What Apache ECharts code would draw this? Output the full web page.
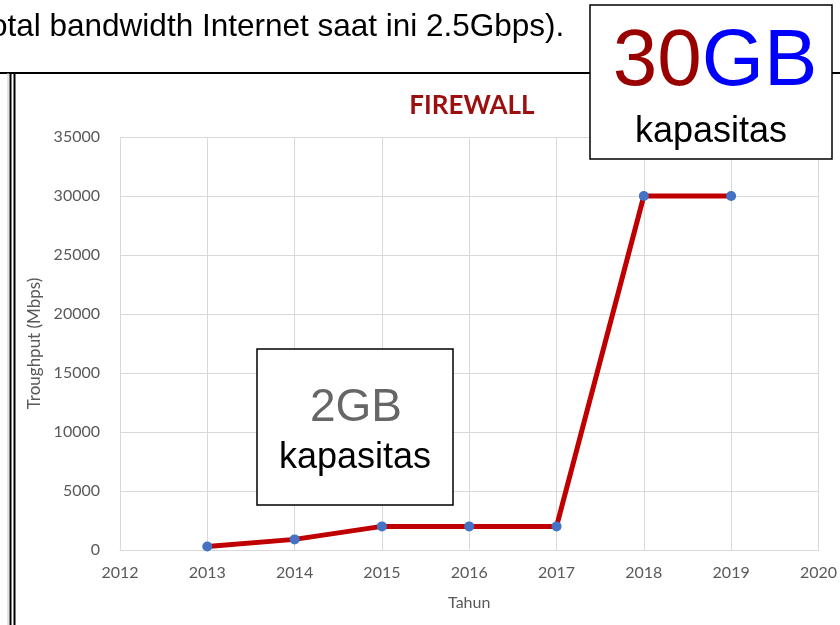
<!DOCTYPE html>
<html>
<head>
<meta charset="utf-8">
<script src="https://cdn.jsdelivr.net/npm/echarts@6/dist/echarts.min.js"></script>
<style>
  html, body { margin: 0; padding: 0; background: #fff; }
  #chart { width: 840px; height: 625px; }
</style>
</head>
<body>
<div id="chart"></div>
<script>
// data
var years = [2013, 2014, 2015, 2016, 2017, 2018, 2019];
var throughput = [300, 900, 2000, 2000, 2000, 30000, 30000];
var yearMin = 2012, yearMax = 2020;
var yMax = 35000, yStep = 5000;

var points = [];
for (var i = 0; i < years.length; i++) {
  points.push([years[i], throughput[i]]);
}

var gridColor = '#d9d9d9';
var labelColor = '#595959';

var options = {};
options.animation = false;
options.title = {
  text: 'FIREWALL',
  left: 467, top: 88, textAlign: 'center',
  textStyle: { color: '#9b0f0f', fontFamily: 'Lato', fontWeight: 'bold', fontSize: 26 }
};
options.grid = { left: 120, right: 16, top: 137, bottom: 75 };
options.xAxis = {
  type: 'value', min: yearMin, max: yearMax, interval: 1,
  name: 'Tahun', nameLocation: 'middle', nameGap: 45,
  nameTextStyle: { color: labelColor, fontFamily: 'Lato', fontSize: 16 },
  axisLine: { show: true, lineStyle: { color: gridColor } },
  axisTick: { show: false },
  axisLabel: { color: labelColor, fontFamily: 'Lato', fontSize: 16, margin: 15,
               formatter: function (v) { return String(v); } },
  splitLine: { show: true, lineStyle: { color: gridColor } }
};
options.yAxis = {
  type: 'value', min: 0, max: yMax, interval: yStep,
  name: 'Troughput (Mbps)', nameLocation: 'middle', nameGap: 76,
  nameTextStyle: { color: labelColor, fontFamily: 'Lato', fontSize: 17 },
  axisLine: { show: false },
  axisTick: { show: false },
  axisLabel: { color: labelColor, fontFamily: 'Lato', fontSize: 16, margin: 20,
               formatter: function (v) { return String(v); } },
  splitLine: { show: true, lineStyle: { color: gridColor } }
};
options.series = [{
  type: 'line',
  data: points,
  symbol: 'circle', symbolSize: 10,
  lineStyle: { color: '#c00000', width: 5 },
  itemStyle: { color: '#4472c4' },
  z: 3
}];
options.graphic = [
  // page text above the chart
  { type: 'text', left: -10, top: 11,
    style: { text: 'otal bandwidth Internet saat ini 2.5Gbps).', fill: '#000',
             font: '31.5px "Liberation Sans"' } },
  // frame of the table cell around the chart
  { type: 'line', shape: { x1: 0, y1: 73, x2: 840, y2: 73 }, style: { stroke: '#000', lineWidth: 2 } },
  { type: 'line', shape: { x1: 8, y1: 73, x2: 8, y2: 625 }, style: { stroke: '#ccc', lineWidth: 1 } },
  { type: 'line', shape: { x1: 10.5, y1: 73, x2: 10.5, y2: 625 }, style: { stroke: '#000', lineWidth: 2 } },
  { type: 'line', shape: { x1: 14.5, y1: 73, x2: 14.5, y2: 625 }, style: { stroke: '#000', lineWidth: 2 } },
  // 30GB box
  { type: 'rect', shape: { x: 590, y: 5, width: 242, height: 154 },
    style: { fill: '#fff', stroke: '#000', lineWidth: 1.5 }, z: 10 },
  { type: 'text', x: 715, y: 63, z: 11,
    style: { text: '{a|30}{b|GB}', align: 'center', verticalAlign: 'middle',
             rich: {
               a: { fill: '#990000', fontSize: 80, fontFamily: 'Liberation Sans' },
               b: { fill: '#0000ff', fontSize: 80, fontFamily: 'Liberation Sans' }
             } } },
  { type: 'text', x: 711, y: 132, z: 11,
    style: { text: 'kapasitas', align: 'center', verticalAlign: 'middle',
             fill: '#000', font: '36px "Liberation Sans"' } },
  // 2GB box
  { type: 'rect', shape: { x: 257, y: 349, width: 196, height: 156 },
    style: { fill: '#fff', stroke: '#000', lineWidth: 1.5 }, z: 10 },
  { type: 'text', x: 356, y: 408, z: 11,
    style: { text: '2GB', align: 'center', verticalAlign: 'middle',
             fill: '#666', font: '46px "Liberation Sans"' } },
  { type: 'text', x: 355, y: 458, z: 11,
    style: { text: 'kapasitas', align: 'center', verticalAlign: 'middle',
             fill: '#000', font: '36px "Liberation Sans"' } }
];

var myChart = echarts.init(document.getElementById('chart'));
myChart.setOption(options);
</script>
</body>
</html>
